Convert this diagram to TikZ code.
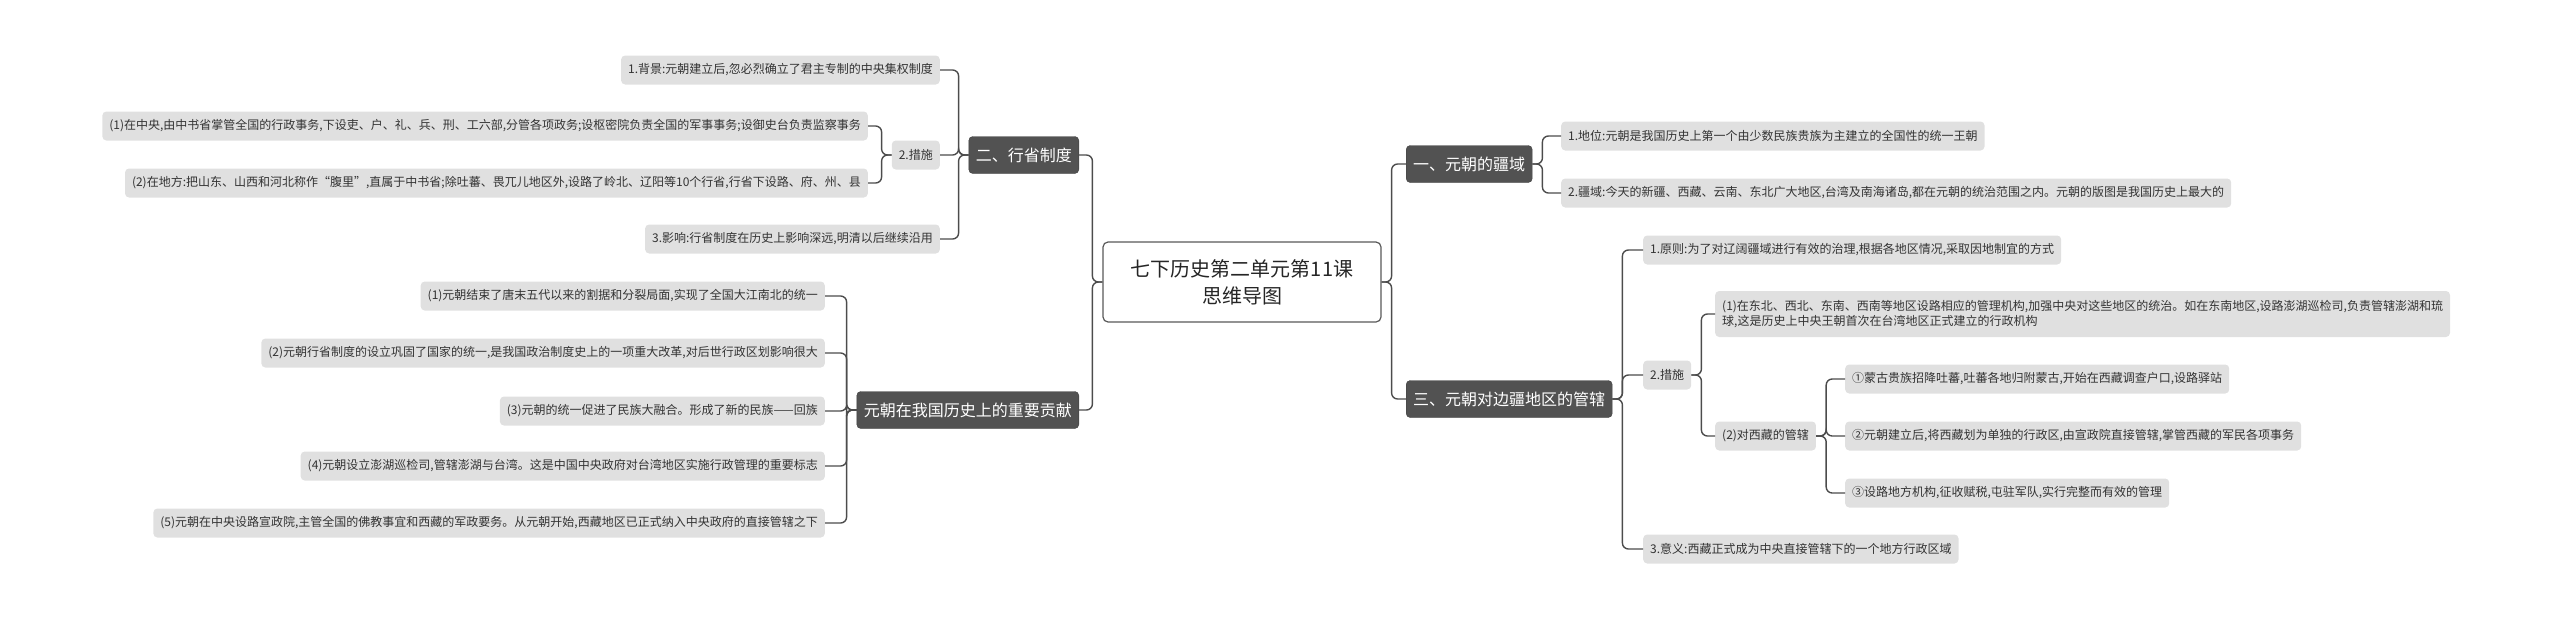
\documentclass[tikz,border=0pt]{standalone}
\usepackage{fontspec}
\setmainfont{Noto Sans CJK SC}
\begin{document}
\begin{tikzpicture}[x=1pt,y=-1pt,
  leaf/.style={fill=black!12,rounded corners=4pt,inner xsep=7pt,minimum height=29pt,font=\fontsize{12}{15}\selectfont,text=black!80},
  topic/.style={fill=black!68,draw=black!75,rounded corners=4pt,inner xsep=7pt,minimum height=37pt,font=\fontsize{16}{19}\selectfont,text=white},
  rootbox/.style={fill=white,draw=black!65,line width=1.2pt,rounded corners=5pt,align=center,minimum width=278pt,minimum height=80pt,font=\fontsize{20}{27}\selectfont,text=black!85},
  link/.style={draw=black!70,line width=1.4pt,rounded corners=6pt}]
\useasboundingbox (0,0) rectangle (2560,619);
\node[rootbox] (root) at (1242,282) {七下历史第二单元第11课\\思维导图};
% left side
\node[topic,anchor=east] (t2) at (1079,155) {二、行省制度};
\node[topic,anchor=east] (t4) at (1079,410) {元朝在我国历史上的重要贡献};
\node[leaf,anchor=east] (b1) at (940,70) {1.背景:元朝建立后,忽必烈确立了君主专制的中央集权制度};
\node[leaf,anchor=east] (b2) at (940,155) {2.措施};
\node[leaf,anchor=east] (b21) at (868,126) {(1)在中央,由中书省掌管全国的行政事务,下设吏、户、礼、兵、刑、工六部,分管各项政务;设枢密院负责全国的军事事务;设御史台负责监察事务};
\node[leaf,anchor=east] (b22) at (868,183) {(2)在地方:把山东、山西和河北称作“腹里”,直属于中书省;除吐蕃、畏兀儿地区外,设路了岭北、辽阳等10个行省,行省下设路、府、州、县};
\node[leaf,anchor=east] (b3) at (940,239) {3.影响:行省制度在历史上影响深远,明清以后继续沿用};
\node[leaf,anchor=east] (c1) at (825,296) {(1)元朝结束了唐末五代以来的割据和分裂局面,实现了全国大江南北的统一};
\node[leaf,anchor=east] (c2) at (825,353) {(2)元朝行省制度的设立巩固了国家的统一,是我国政治制度史上的一项重大改革,对后世行政区划影响很大};
\node[leaf,anchor=east] (c3) at (825,411) {(3)元朝的统一促进了民族大融合。形成了新的民族——回族};
\node[leaf,anchor=east] (c4) at (825,466) {(4)元朝设立澎湖巡检司,管辖澎湖与台湾。这是中国中央政府对台湾地区实施行政管理的重要标志};
\node[leaf,anchor=east] (c5) at (825,523) {(5)元朝在中央设路宣政院,主管全国的佛教事宜和西藏的军政要务。从元朝开始,西藏地区已正式纳入中央政府的直接管辖之下};
% right side
\node[topic,anchor=west] (t1) at (1406,164) {一、元朝的疆域};
\node[topic,anchor=west] (t3) at (1406,399) {三、元朝对边疆地区的管辖};
\node[leaf,anchor=west] (a1) at (1561,136) {1.地位:元朝是我国历史上第一个由少数民族贵族为主建立的全国性的统一王朝};
\node[leaf,anchor=west] (a2) at (1561,193) {2.疆域:今天的新疆、西藏、云南、东北广大地区,台湾及南海诸岛,都在元朝的统治范围之内。元朝的版图是我国历史上最大的};
\node[leaf,anchor=west] (d1) at (1643,250) {1.原则:为了对辽阔疆域进行有效的治理,根据各地区情况,采取因地制宜的方式};
\node[leaf,anchor=west] (d2) at (1643,375) {2.措施};
\node[leaf,anchor=west,align=left,minimum height=46pt] (d21) at (1715,314) {(1)在东北、西北、东南、西南等地区设路相应的管理机构,加强中央对这些地区的统治。如在东南地区,设路澎湖巡检司,负责管辖澎湖和琉\\球,这是历史上中央王朝首次在台湾地区正式建立的行政机构};
\node[leaf,anchor=west] (d22) at (1715,436) {(2)对西藏的管辖};
\node[leaf,anchor=west] (e1) at (1845,379) {①蒙古贵族招降吐蕃,吐蕃各地归附蒙古,开始在西藏调查户口,设路驿站};
\node[leaf,anchor=west] (e2) at (1845,436) {②元朝建立后,将西藏划为单独的行政区,由宣政院直接管辖,掌管西藏的军民各项事务};
\node[leaf,anchor=west] (e3) at (1845,493) {③设路地方机构,征收赋税,屯驻军队,实行完整而有效的管理};
\node[leaf,anchor=west] (d3) at (1643,549) {3.意义:西藏正式成为中央直接管辖下的一个地方行政区域};
% connectors
\foreach \c in {t2,t4} \draw[link] (root.west) -- ++(-10,0) |- (\c.east);
\foreach \c in {t1,t3} \draw[link] (root.east) -- ++(10,0) |- (\c.west);
\foreach \c in {b1,b2,b3} \draw[link] (t2.west) -- ++(-10,0) |- (\c.east);
\foreach \c in {b21,b22} \draw[link] (b2.west) -- ++(-10,0) |- (\c.east);
\foreach \c in {c1,c2,c3,c4,c5} \draw[link] (t4.west) -- ++(-10,0) |- (\c.east);
\foreach \c in {a1,a2} \draw[link] (t1.east) -- ++(10,0) |- (\c.west);
\foreach \c in {d1,d2,d3} \draw[link] (t3.east) -- ++(10,0) |- (\c.west);
\foreach \c in {d21,d22} \draw[link] (d2.east) -- ++(10,0) |- (\c.west);
\foreach \c in {e1,e2,e3} \draw[link] (d22.east) -- ++(10,0) |- (\c.west);
\end{tikzpicture}
\end{document}
